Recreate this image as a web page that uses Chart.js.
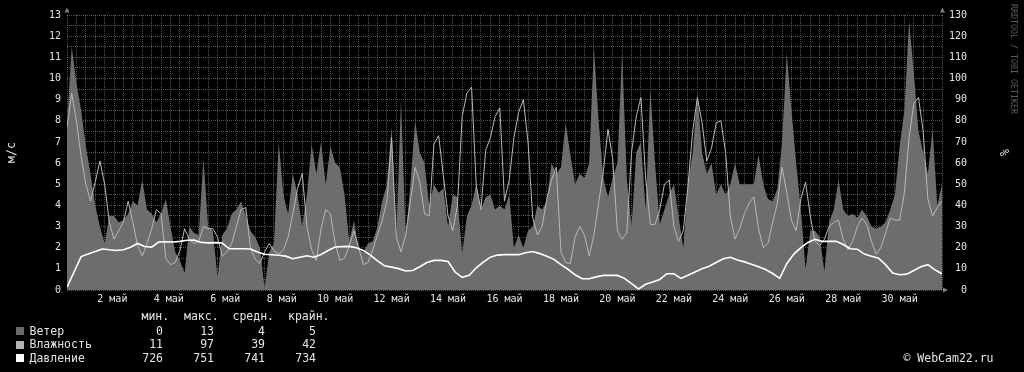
<!DOCTYPE html>
<html>
<head>
<meta charset="utf-8">
<script src="https://cdn.jsdelivr.net/npm/chart.js@4.4.1/dist/chart.umd.min.js"></script>
<style>
  body { margin: 0; background: #000; }
  #wrap { position: relative; width: 1024px; height: 372px; background: #000;
          font-family: "DejaVu Sans Mono", monospace; color: #e4e4e4; overflow: hidden; }
  #chart { position: absolute; left: 0; top: 0; }
  .t { position: absolute; font-size: 11.5px; line-height: 14px; white-space: pre; }
  .num { width: 60px; text-align: right; }
  .box { position: absolute; left: 15.5px; width: 8px; height: 8px; }
  #mark { position: absolute; left: 1009px; top: 4px; writing-mode: vertical-rl;
          font-size: 8.3px; line-height: 10px; color: #5a5a5a; white-space: pre; }
</style>
</head>
<body>
<div id="wrap">
  <canvas id="chart" width="1024" height="372"></canvas>

  <div class="t" style="left:141.5px; top:309px">мин.</div>
  <div class="t" style="left:184px; top:309px">макс.</div>
  <div class="t" style="left:232.5px; top:309px">средн.</div>
  <div class="t" style="left:288px; top:309px">крайн.</div>

  <div class="box" style="top:326.7px; background:#6b6b6b"></div>
  <div class="t" style="left:29.5px; top:323.7px">Ветер</div>
  <div class="t num" style="left:103px; top:323.7px">0</div>
  <div class="t num" style="left:154px; top:323.7px">13</div>
  <div class="t num" style="left:205px; top:323.7px">4</div>
  <div class="t num" style="left:256px; top:323.7px">5</div>

  <div class="box" style="top:340.5px; background:#b4b4b4"></div>
  <div class="t" style="left:29.5px; top:337px">Влажность</div>
  <div class="t num" style="left:103px; top:337px">11</div>
  <div class="t num" style="left:154px; top:337px">97</div>
  <div class="t num" style="left:205px; top:337px">39</div>
  <div class="t num" style="left:256px; top:337px">42</div>

  <div class="box" style="top:354.3px; background:#ffffff"></div>
  <div class="t" style="left:29.5px; top:351.2px">Давление</div>
  <div class="t num" style="left:103px; top:351.2px">726</div>
  <div class="t num" style="left:154px; top:351.2px">751</div>
  <div class="t num" style="left:205px; top:351.2px">741</div>
  <div class="t num" style="left:256px; top:351.2px">734</div>

  <div class="t" style="left:903.5px; top:351.2px">© WebCam22.ru</div>
  <div id="mark">RRDTOOL / TOBI OETIKER</div>
</div>

<script>
// month of May, x runs in days from May 1 00:00
const monthName = "май";
const labelDays = [2, 4, 6, 8, 10, 12, 14, 16, 18, 20, 22, 24, 26, 28, 30];
const totalDays = 31;

// wind, m/s, every 4 hours (6 per day)
const wind = [
  7.8, 11.5, 9.8, 8.5, 6.8, 5.5,
  4.0, 3.0, 2.2, 3.5, 3.5, 3.2,
  3.3, 3.6, 4.2, 4.0, 5.2, 3.8,
  3.6, 3.2, 3.6, 4.3, 3.0, 1.8,
  1.4, 0.8, 3.0, 2.7, 2.6, 6.2,
  3.0, 2.8, 0.6, 2.6, 2.9, 3.6,
  3.8, 4.2, 3.5, 2.8, 2.5, 2.0,
  0.1, 1.8, 2.2, 7.0, 4.5, 3.6,
  5.5, 4.5, 3.0, 4.5, 6.9, 5.5,
  7.0, 5.0, 6.8, 6.0, 5.8, 4.5,
  2.3, 3.3, 1.9, 1.8, 2.2, 2.3,
  3.0, 4.2, 5.0, 7.7, 2.5, 9.0,
  2.5, 5.0, 8.0, 6.5, 6.0, 4.0,
  5.0, 4.6, 4.8, 3.0, 4.5, 4.4,
  1.7, 3.5, 4.0, 5.0, 3.8, 4.4,
  4.5, 3.8, 4.0, 3.8, 4.5, 2.0,
  2.6, 2.0, 2.8, 3.0, 4.0, 3.8,
  4.2, 6.0, 5.5, 5.8, 7.9, 6.4,
  5.0, 5.5, 5.3, 6.0, 11.5, 8.0,
  5.3, 4.4, 5.3, 6.0, 11.2, 5.3,
  3.0, 6.5, 7.0, 3.8, 9.5, 6.0,
  3.1, 3.8, 4.5, 5.0, 3.5, 2.0,
  5.0, 6.5, 9.3, 6.5, 5.5, 6.0,
  4.5, 5.0, 4.5, 5.0, 6.0, 5.0,
  5.0, 5.0, 5.0, 6.4, 5.0, 4.3,
  4.2, 4.8, 7.0, 11.2, 8.5, 6.0,
  3.8, 1.0, 2.8, 2.8, 2.5, 0.9,
  3.2, 3.8, 5.2, 3.8, 3.5, 3.6,
  3.4, 3.8, 3.5, 3.0, 2.9, 3.0,
  3.2, 3.8, 4.5, 6.8, 8.5, 12.7,
  10.3, 7.5, 6.5, 5.5, 7.6, 4.0,
  5.0
];

// humidity, %, every 4 hours
const humidity = [
  77, 93, 80, 63, 50, 42,
  51, 61, 50, 32, 24, 28,
  32, 42, 32, 21, 16, 22,
  29, 38, 36, 15, 12, 13,
  18.5, 29, 24, 22, 23, 30,
  29, 29, 25, 16, 18, 22,
  30, 38, 39, 20, 14.5, 12.5,
  18, 22, 18.5, 17, 19, 25,
  36, 48, 55, 30, 19, 14,
  29, 38, 36, 22, 14, 15,
  21, 28, 20, 12, 13, 19,
  26, 33, 42, 72, 25, 18,
  26, 42, 58, 51, 36, 35,
  69, 73, 54, 35, 28, 40,
  82, 93, 96, 49, 38, 66,
  72, 82, 86, 42, 52, 72,
  84, 90, 70, 34, 26, 30,
  43, 52, 58, 18, 13, 12.5,
  25, 30, 26, 16, 26, 41,
  56, 76, 62, 28, 24, 27,
  65, 82, 91, 53, 31, 31,
  38, 50, 52, 30, 23, 28,
  49, 75, 91, 79, 61, 67,
  79, 80, 65, 35, 24, 29,
  36, 41, 44, 29, 20, 22,
  32, 41, 58, 46, 33, 28,
  43, 51, 35, 23, 21, 24,
  30, 32, 33, 24, 19, 23,
  30, 34, 31, 23, 17, 20,
  27, 34, 33, 33, 46, 72,
  88, 91, 75, 43, 35, 39,
  42
];

// pressure, mm Hg, every 6 hours (4 per day)
const pressure = [
  726.3, 733.5, 740.8, 742.0,
  743.2, 744.4, 744.0, 743.7,
  744.0, 745.2, 747.0, 745.6,
  745.3, 747.7, 747.8, 747.7,
  748.0, 748.5, 748.6, 747.5,
  747.3, 747.4, 747.2, 744.5,
  744.5, 744.5, 744.4, 743.0,
  741.9, 741.7, 741.4, 741.0,
  739.8, 740.5, 741.2, 740.5,
  741.8, 743.7, 745.3, 745.5,
  745.6, 745.0, 743.7, 741.5,
  738.8, 736.5, 735.8, 735.1,
  734.0, 734.2, 736.0, 738.0,
  739.0, 739.0, 738.5, 733.5,
  731.0, 732.0, 735.5, 738.2,
  740.5, 741.5, 741.7, 741.7,
  741.7, 742.6, 743.2, 742.2,
  741.0, 739.5, 737.0, 734.8,
  732.2, 730.3, 730.3, 731.2,
  731.9, 731.9, 731.9, 730.5,
  728.0, 725.5, 727.7, 728.8,
  730.0, 732.7, 732.7, 730.5,
  732.0, 733.5, 735.0, 736.2,
  738.0, 739.8, 740.5, 739.2,
  738.3, 737.2, 736.0, 734.7,
  732.8, 730.5, 737.4, 742.0,
  745.0, 747.5, 749.0, 748.0,
  748.0, 748.0, 746.5, 744.5,
  744.3, 742.0, 741.0, 740.0,
  737.0, 733.0, 732.2, 732.5,
  734.2, 736.0, 737.0, 734.5,
  732.7
];

// pressure is drawn on the m/s scale: (p - 725) / 10
const pressBase = 725;
const pressDiv = 10;

const leftTicks = [];
for (let v = 0; v <= 13; v += 0.5) leftTicks.push(v);
const rightTicks = [0, 10, 20, 30, 40, 50, 60, 70, 80, 90, 100, 110, 120, 130];

const GRID = "rgba(170,170,170,0.5)";
const TEXT = "#e4e4e4";
const FONT = "'DejaVu Sans Mono', monospace";

Chart.defaults.font.family = FONT;

// little rrdtool style arrows at the axis ends
const axisArrows = {
  id: "axisArrows",
  afterDraw(chart) {
    const { ctx, chartArea: a } = chart;
    ctx.save();
    ctx.fillStyle = "#808080";
    const tri = (p) => {
      ctx.beginPath();
      ctx.moveTo(p[0], p[1]); ctx.lineTo(p[2], p[3]); ctx.lineTo(p[4], p[5]);
      ctx.closePath(); ctx.fill();
    };
    tri([a.left - 2.5, a.top - 2.5, a.left + 2.5, a.top - 2.5, a.left, a.top - 7.5]);
    tri([a.right - 2, a.top - 2.5, a.right + 3, a.top - 2.5, a.right + 0.5, a.top - 7.5]);
    tri([a.right + 1, a.bottom - 2.5, a.right + 1, a.bottom + 2.5, a.right + 6, a.bottom]);
    ctx.restore();
  }
};

new Chart(document.getElementById("chart"), {
  type: "line",
  data: {
    datasets: [
      {
        label: "Давление",
        data: pressure.map((p, i) => ({ x: i / 4, y: (p - pressBase) / pressDiv })),
        borderColor: "#ffffff",
        borderWidth: 1.6,
        yAxisID: "y",
        order: 1
      },
      {
        label: "Влажность",
        data: humidity.map((h, i) => ({ x: i / 6, y: h })),
        borderColor: "#b8b8b8",
        borderWidth: 1,
        yAxisID: "y2",
        order: 2
      },
      {
        label: "Ветер",
        data: wind.map((w, i) => ({ x: i / 6, y: w })),
        borderWidth: 0,
        borderColor: "rgba(0,0,0,0)",
        backgroundColor: "#6d6d6d",
        fill: "origin",
        yAxisID: "y",
        order: 3
      }
    ]
  },
  options: {
    responsive: false,
    animation: false,
    devicePixelRatio: 1,
    layout: { padding: { top: 15, left: 0, right: 0, bottom: 0 } },
    plugins: { legend: { display: false }, tooltip: { enabled: false } },
    elements: { point: { radius: 0 }, line: { tension: 0 } },
    scales: {
      x: {
        type: "linear",
        min: 0,
        max: totalDays,
        z: 1,
        afterFit: (s) => { s.height = 82; },
        afterBuildTicks: (s) => {
          const t = [];
          for (let k = 0; k <= totalDays * 6; k++) t.push({ value: k / 6 });
          s.ticks = t;
        },
        grid: {
          color: (ctx) => (ctx.index % 2 === 0 ? GRID : "rgba(0,0,0,0)"),
          lineWidth: 1,
          drawTicks: false
        },
        border: { display: false, dash: [1, 1] },
        ticks: {
          autoSkip: false,
          maxRotation: 0,
          minRotation: 0,
          padding: 3,
          color: TEXT,
          font: { size: 10, family: FONT },
          callback: (value, index) => {
            if (index % 6 !== 3) return "";
            const d = (index - 3) / 6 + 1;
            return labelDays.includes(d) ? String(d).padStart(2, " ") + " " + monthName : "";
          }
        }
      },
      y: {
        position: "left",
        min: 0,
        max: 13,
        z: 1,
        afterFit: (s) => { s.width = 67; },
        afterBuildTicks: (s) => { s.ticks = leftTicks.map((v) => ({ value: v })); },
        grid: { color: GRID, lineWidth: 1, drawTicks: false },
        border: { display: false, dash: [1, 1] },
        ticks: {
          autoSkip: false,
          padding: 6,
          color: TEXT,
          font: { size: 10, family: FONT },
          callback: (v) => (Number.isInteger(v) ? String(v) : "")
        },
        title: {
          display: true,
          text: "м/с",
          color: TEXT,
          font: { size: 11.5, family: FONT },
          padding: { top: 5, bottom: 0 }
        }
      },
      y2: {
        position: "right",
        min: 0,
        max: 130,
        afterFit: (s) => { s.width = 82; },
        afterBuildTicks: (s) => { s.ticks = rightTicks.map((v) => ({ value: v })); },
        grid: { display: false, drawTicks: false },
        border: { display: false },
        ticks: {
          autoSkip: false,
          padding: 7,
          crossAlign: "near",
          color: TEXT,
          font: { size: 10, family: FONT },
          // monospace padding keeps the numbers right-aligned like rrdtool
          callback: (v) => String(v).padStart(3, " ")
        },
        title: {
          display: true,
          text: "%",
          color: TEXT,
          font: { size: 11.5, family: FONT },
          padding: { top: 14, bottom: 0 }
        }
      }
    }
  },
  plugins: [axisArrows]
});
</script>
</body>
</html>
